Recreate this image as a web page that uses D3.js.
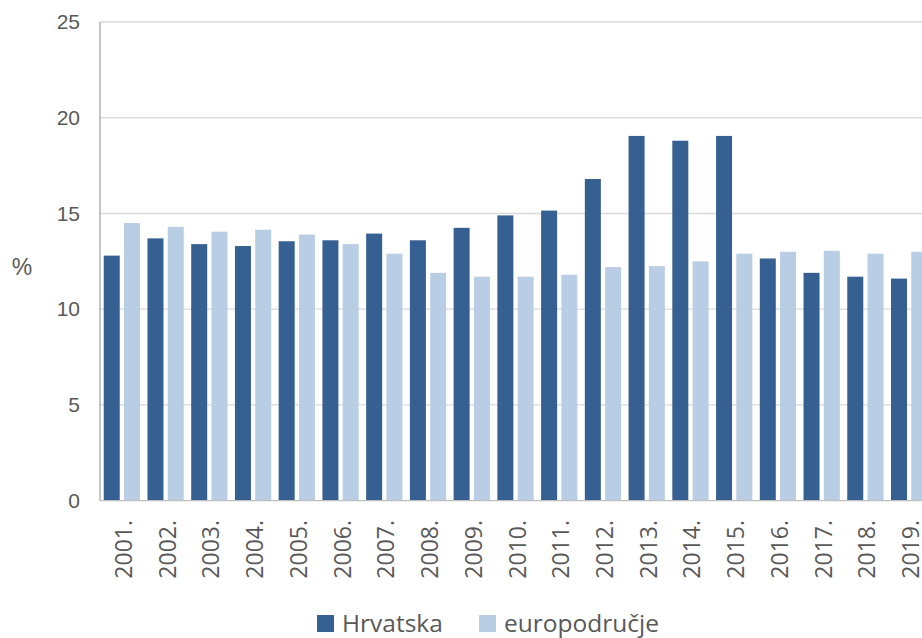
<!DOCTYPE html>
<meta charset="utf-8">
<script src="https://d3js.org/d3.v7.min.js"></script>
<style>
  body { margin: 0; background: #fff; }
</style>
<div id="chart"></div>
<script>

var width = 922, height = 638;

// podaci
var godine = ["2001.","2002.","2003.","2004.","2005.","2006.","2007.","2008.","2009.","2010.",
              "2011.","2012.","2013.","2014.","2015.","2016.","2017.","2018.","2019."];
var serije = ["Hrvatska", "europodručje"];
var hrvatska = [12.8, 13.7, 13.4, 13.3, 13.55, 13.6, 13.95, 13.6, 14.25, 14.9,
                15.15, 16.8, 19.05, 18.8, 19.05, 12.65, 11.9, 11.7, 11.6];
var europodrucje = [14.5, 14.3, 14.05, 14.15, 13.9, 13.4, 12.9, 11.9, 11.7, 11.7,
                    11.8, 12.2, 12.25, 12.5, 12.9, 13.0, 13.05, 12.9, 13.0];
var yTicks = [0, 5, 10, 15, 20, 25];

var boje = { "Hrvatska": "#376092", "europodručje": "#b9cde5" };

var margin = { left: 100, top: 22, right: 931, bottom: 500.7 };

var svg = d3.select("#chart")
  .append("svg")
  .attr("width", width)
  .attr("height", height);

var x = d3.scaleBand()
  .domain(godine)
  .range([margin.left, margin.right])
  .paddingInner(0)
  .paddingOuter(0);

var xs = d3.scaleBand()
  .domain(serije)
  .range([0, x.bandwidth()])
  .paddingInner(0.21)
  .paddingOuter(0.184);

var y = d3.scaleLinear()
  .domain([0, 25])
  .range([margin.bottom, margin.top]);

// mreža
svg.append("g")
  .selectAll("line")
  .data(yTicks.filter(function(d) { return d > 0; }))
  .join("line")
  .attr("x1", margin.left)
  .attr("x2", margin.right)
  .attr("y1", function(d) { return y(d); })
  .attr("y2", function(d) { return y(d); })
  .attr("stroke", "#d9d9d9")
  .attr("stroke-width", 1.3);

// stupci
var tablica = godine.map(function(g, i) {
  return { godina: g, vrijednosti: [
    { serija: "Hrvatska", v: hrvatska[i] },
    { serija: "europodručje", v: europodrucje[i] }
  ]};
});

svg.append("g")
  .selectAll("g")
  .data(tablica)
  .join("g")
  .attr("transform", function(d) { return "translate(" + x(d.godina) + ",0)"; })
  .selectAll("rect")
  .data(function(d) { return d.vrijednosti; })
  .join("rect")
  .attr("x", function(d) { return xs(d.serija); })
  .attr("width", xs.bandwidth())
  .attr("y", function(d) { return y(d.v); })
  .attr("height", function(d) { return y(0) - y(d.v); })
  .attr("fill", function(d) { return boje[d.serija]; });

// osi
svg.append("line")
  .attr("x1", margin.left).attr("x2", margin.left)
  .attr("y1", margin.top).attr("y2", margin.bottom)
  .attr("stroke", "#a6a6a6").attr("stroke-width", 1.3);

svg.append("line")
  .attr("x1", margin.left).attr("x2", margin.right)
  .attr("y1", margin.bottom).attr("y2", margin.bottom)
  .attr("stroke", "#bfbfbf").attr("stroke-width", 1.3);

var yAxis = svg.append("g")
  .attr("transform", "translate(" + (margin.left - 20) + ",0)")
  .call(d3.axisLeft(y).tickValues(yTicks).tickSize(0).tickPadding(0));
yAxis.select(".domain").remove();
yAxis.selectAll("text")
  .attr("fill", "#595959")
  .style("font-family", "'Liberation Sans', Arial, sans-serif")
  .style("font-size", "21px");

svg.append("text")
  .attr("x", 22)
  .attr("y", 267)
  .attr("text-anchor", "middle")
  .attr("dominant-baseline", "central")
  .attr("fill", "#595959")
  .style("font-family", "'Liberation Sans', Arial, sans-serif")
  .style("font-size", "23px")
  .text("%");

// oznake godina
svg.append("g")
  .selectAll("text")
  .data(godine)
  .join("text")
  .attr("transform", function(d) {
    return "translate(" + (x(d) + x.bandwidth() / 2 + 1) + ",520) rotate(-90)";
  })
  .attr("text-anchor", "end")
  .attr("dominant-baseline", "central")
  .attr("fill", "#595959")
  .style("font-family", "'Open Sans', sans-serif")
  .style("font-size", "23px")
  .text(function(d) { return d; });

// legenda
var legenda = [
  { serija: "Hrvatska", x: 317 },
  { serija: "europodručje", x: 479 }
];

var leg = svg.append("g")
  .selectAll("g")
  .data(legenda)
  .join("g")
  .attr("transform", function(d) { return "translate(" + d.x + ",615)"; });

leg.append("rect")
  .attr("width", 17)
  .attr("height", 17)
  .attr("fill", function(d) { return boje[d.serija]; });

leg.append("text")
  .attr("x", 25)
  .attr("y", 16.5)
  .attr("fill", "#595959")
  .style("font-family", "'Open Sans', sans-serif")
  .style("font-size", "24.5px")
  .text(function(d) { return d.serija; });

</script>
